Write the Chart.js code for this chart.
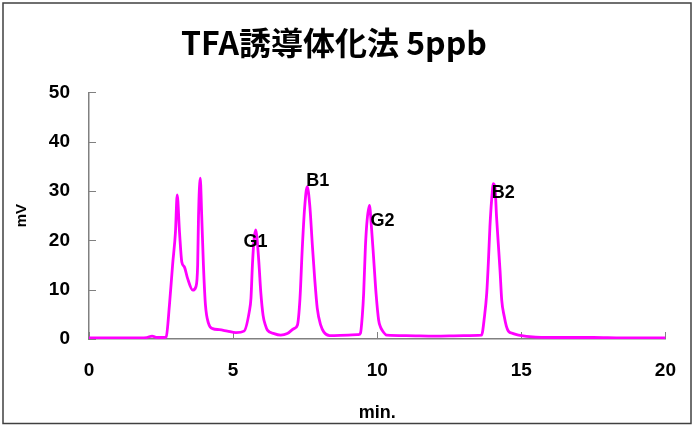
<!DOCTYPE html>
<html>
<head>
<meta charset="utf-8">
<script src="https://cdn.jsdelivr.net/npm/chart.js@4/dist/chart.umd.min.js"></script>
<style>
  html, body { margin: 0; padding: 0; background: #fff; }
  canvas { display: block; }
</style>
</head>
<body>
<canvas id="chrom" width="696" height="425"></canvas>
<script>
// Chromatogram trace (time in min, signal in mV)
const times = [
    0, 0.5, 1.0, 1.5, 2.0, 2.19, 2.35, 2.6, 2.68, 2.79, 2.90, 3.00, 3.06, 3.14, 3.22, 3.31,
    3.42, 3.60, 3.71, 3.77, 3.80, 3.86, 3.91, 3.97, 4.04, 4.15, 4.29, 4.52, 4.8, 5.1, 5.38,
    5.56, 5.62, 5.67, 5.73, 5.79, 5.84, 5.90, 5.96, 6.04, 6.12, 6.19, 6.42, 6.65, 6.88, 7.11, 7.23,
    7.32, 7.40, 7.48, 7.57, 7.66, 7.75, 7.83, 7.92, 8.04, 8.15, 8.35, 9.0, 9.35, 9.42, 9.48,
    9.53, 9.59, 9.65, 9.73, 9.80, 9.88, 9.96, 10.05, 10.11, 10.17, 10.33, 11, 12, 13, 13.62, 13.72,
    13.80, 13.86, 13.91, 13.97, 14.03, 14.09, 14.14, 14.20, 14.26, 14.32, 14.41, 14.48, 14.55, 14.72,
    14.90, 15.5, 16.5, 17.5, 18.5, 19.5, 20
];
const signal = [
    0.2, 0.2, 0.2, 0.2, 0.3, 0.6, 0.3, 0.3, 0.5, 6.8, 15, 21.7, 29.2, 21.7, 15.6, 14.6,
    12.3, 9.9, 10.6, 15, 25, 32.6, 25.1, 15, 6.9, 3.1, 2.1, 1.9, 1.6, 1.3, 1.6,
    5.5, 8.3, 15, 20.4, 22.1, 19.7, 15, 9.5, 4.8, 2.8, 1.8, 1.1, 0.8, 1.1, 2.1, 2.8,
    8.2, 18.4, 26.5, 30.9, 27.1, 19, 12.3, 6.2, 2.8, 1.4, 0.7, 0.8, 0.9, 1.2, 4.5,
    9.3, 18.7, 24.1, 27.1, 22.7, 16, 9.2, 3.8, 2.5, 1.8, 0.8, 0.7, 0.6, 0.7, 0.8, 4.5,
    9.3, 16, 22.7, 28.2, 31.5, 30.5, 24.8, 19.4, 14, 7.9, 4.5, 2.6, 1.6, 1.1,
    0.8, 0.4, 0.3, 0.3, 0.2, 0.2, 0.2
];

// Peak names and where their labels sit (data coordinates)
const peakNames = ['G1', 'B1', 'G2', 'B2'];
const peakLabelTimes = [5.78, 7.94, 10.18, 14.37];
const peakLabelValues = [19.6, 32.0, 24.0, 29.6];

const xTicks = [0, 5, 10, 15, 20];
const yTicks = [0, 10, 20, 30, 40, 50];

const points = times.map((t, i) => ({ x: t, y: signal[i] }));

// Tick marks point into the plot area, so draw them by hand
const innerTicks = {
    id: 'innerTicks',
    beforeDatasetsDraw(chart) {
        const { ctx, scales: { x, y } } = chart;
        ctx.save();
        ctx.strokeStyle = '#808080';
        ctx.lineWidth = 1;
        ctx.beginPath();
        xTicks.forEach(v => {
            const px = Math.round(x.getPixelForValue(v)) + 0.5;
            ctx.moveTo(px, y.bottom);
            ctx.lineTo(px, y.bottom - 7);
        });
        yTicks.forEach(v => {
            const py = Math.round(y.getPixelForValue(v)) + 0.5;
            ctx.moveTo(x.left, py);
            ctx.lineTo(x.left + 7, py);
        });
        ctx.stroke();
        ctx.restore();
    }
};

const peakLabels = {
    id: 'peakLabels',
    afterDatasetsDraw(chart) {
        const { ctx, scales: { x, y } } = chart;
        ctx.save();
        ctx.fillStyle = '#000';
        ctx.font = 'bold 18px "Liberation Sans", Arial, sans-serif';
        ctx.textAlign = 'center';
        ctx.textBaseline = 'middle';
        peakNames.forEach((name, i) => {
            ctx.fillText(name, x.getPixelForValue(peakLabelTimes[i]), y.getPixelForValue(peakLabelValues[i]));
        });
        ctx.restore();
    }
};

const frame = {
    id: 'frame',
    afterDraw(chart) {
        const ctx = chart.ctx;
        ctx.save();
        ctx.strokeStyle = '#404040';
        ctx.lineWidth = 1.5;
        ctx.strokeRect(3, 3, 688, 420.5);
        ctx.restore();
    }
};

new Chart(document.getElementById('chrom'), {
    type: 'line',
    data: {
        datasets: [{
            data: points,
            borderColor: '#ff00ff',
            borderWidth: 2.8,
            pointRadius: 0,
            fill: false,
            cubicInterpolationMode: 'monotone'
        }]
    },
    options: {
        responsive: false,
        animation: false,
        devicePixelRatio: 1,
        layout: { padding: { left: 0, right: 28, top: 0, bottom: 0 } },
        plugins: {
            legend: { display: false },
            tooltip: { enabled: false },
            title: {
                display: true,
                text: 'TFA誘導体化法 5ppb',
                color: '#000',
                font: { family: '"Noto Sans CJK JP", sans-serif', size: 32, weight: 'bold' },
                padding: { top: 24, bottom: 30 }
            }
        },
        scales: {
            x: {
                type: 'linear',
                min: 0,
                max: 20,
                afterFit: s => { s.height = 86; },
                grid: { display: false, drawTicks: false },
                border: { display: true, color: '#808080', width: 1.5 },
                ticks: {
                    stepSize: 5,
                    color: '#000',
                    padding: 20,
                    maxRotation: 0,
                    font: { family: '"Liberation Sans", Arial, sans-serif', size: 19, weight: 'bold' }
                },
                title: {
                    display: true,
                    text: 'min.',
                    color: '#000',
                    font: { family: '"Liberation Sans", Arial, sans-serif', size: 18, weight: 'bold' },
                    padding: { top: 0, bottom: 1 }
                }
            },
            y: {
                min: 0,
                max: 50,
                afterFit: s => { s.width = 89; },
                grid: { display: false, drawTicks: false },
                border: { display: true, color: '#808080', width: 1.5 },
                ticks: {
                    stepSize: 10,
                    color: '#000',
                    padding: 19,
                    font: { family: '"Liberation Sans", Arial, sans-serif', size: 19, weight: 'bold' }
                },
                title: {
                    display: true,
                    text: 'mV',
                    color: '#000',
                    font: { family: '"Liberation Sans", Arial, sans-serif', size: 15, weight: 'bold' },
                    padding: { top: 13, bottom: 0 }
                }
            }
        }
    },
    plugins: [innerTicks, peakLabels, frame]
});
</script>
</body>
</html>
